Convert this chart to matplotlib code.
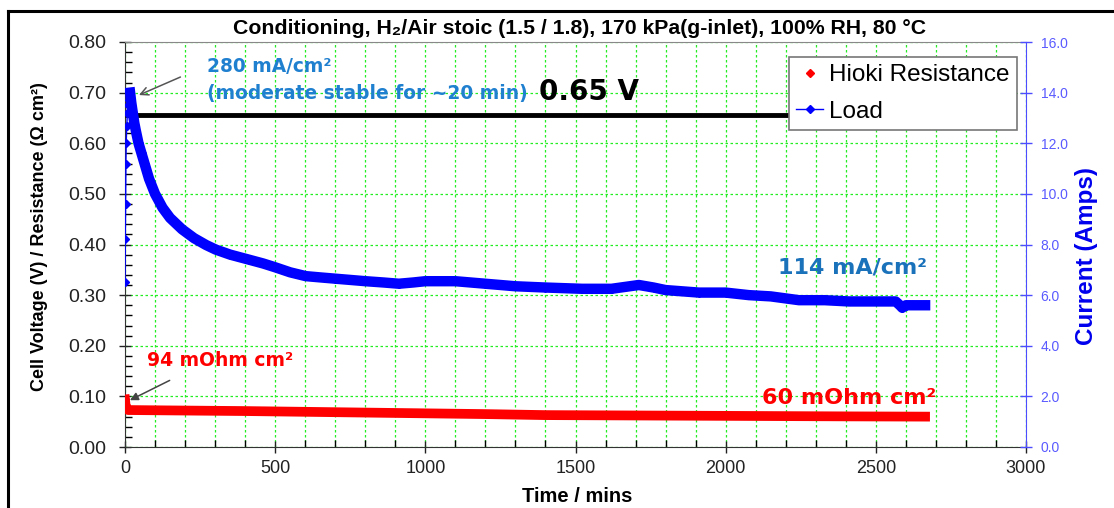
import matplotlib
matplotlib.use("Agg")
import matplotlib.pyplot as plt
from matplotlib.lines import Line2D
from matplotlib.ticker import MultipleLocator, FormatStrFormatter

plt.rcParams['font.family'] = ['Liberation Sans', 'DejaVu Sans']

# ---------------------------------------------------------------- data
# load current (A) vs time (min)
load_time = [0, 1, 2, 3, 4, 6, 8, 10, 13, 17, 21, 26, 31, 36, 45, 55, 65, 80, 100,
             125, 150, 190, 230, 270, 302, 350, 413, 460, 500, 550, 602, 650, 700,
             801, 860, 912, 960, 1000, 1050, 1100, 1200, 1300, 1400, 1522, 1620,
             1711, 1760, 1800, 1911, 2000, 2077, 2150, 2244, 2330, 2411, 2500,
             2566, 2580, 2588, 2600, 2630, 2664]
load_amps = [6.5, 8.2, 9.6, 11.2, 12.0, 12.7, 13.2, 13.5, 13.7, 14.0, 13.6, 13.2,
             12.8, 12.5, 12.0, 11.6, 11.2, 10.6, 10.0, 9.45, 9.05, 8.6, 8.25, 7.98,
             7.8, 7.6, 7.4, 7.25, 7.1, 6.9, 6.75, 6.7, 6.65, 6.55, 6.5, 6.45, 6.5,
             6.55, 6.55, 6.55, 6.45, 6.35, 6.3, 6.25, 6.25, 6.4, 6.3, 6.2, 6.1, 6.1,
             6.0, 5.95, 5.8, 5.8, 5.75, 5.75, 5.75, 5.6, 5.5, 5.6, 5.6, 5.6]

# Hioki HFR (ohm cm2)
res_time = [0, 2, 5, 10, 200, 400, 600, 800, 1000, 1200, 1400, 1600, 1800, 2000,
            2200, 2400, 2664]
res_ohm = [0.094, 0.082, 0.076, 0.073, 0.072, 0.071, 0.0695, 0.068, 0.0665, 0.065,
           0.063, 0.0625, 0.062, 0.0615, 0.061, 0.0605, 0.060]

# cell voltage held constant
volt_time = [0, 500, 1000, 1500, 2000, 2664]
volt = [0.656, 0.656, 0.656, 0.656, 0.656, 0.656]

W, H = 1114, 508
fig = plt.figure(figsize=(W / 100, H / 100), dpi=100)
fig.patch.set_facecolor('white')

x0, x1, ytop, ybot = 125, 1026, 42, 447
ax = fig.add_axes([x0 / W, 1 - ybot / H, (x1 - x0) / W, (ybot - ytop) / H])
ax2 = ax.twinx()

grid_green = '#22ee22'
right_blue = '#4d4dff'

# ---------------------------------------------------------------- left axis
ax.set_xlim(0, 3000)
ax.set_ylim(0, 0.8)
ax.xaxis.set_major_locator(MultipleLocator(500))
ax.xaxis.set_minor_locator(MultipleLocator(100))
ax.yaxis.set_major_locator(MultipleLocator(0.1))
ax.yaxis.set_minor_locator(MultipleLocator(0.02))
ax.yaxis.set_major_formatter(FormatStrFormatter('%.2f'))
ax.tick_params(axis='x', which='major', direction='inout', length=9, width=1,
               labelsize=13, pad=5, colors='#222222')
ax.tick_params(axis='x', which='minor', direction='in', length=5, width=1)
ax.tick_params(axis='y', which='major', direction='inout', length=9, width=1,
               labelsize=14, pad=9, colors='#222222')
ax.tick_params(axis='y', which='minor', direction='in', length=5, width=1)
ax.grid(which='major', axis='y', color=grid_green, linestyle=(0, (2, 2)), lw=0.9)
ax.grid(which='both', axis='x', color=grid_green, linestyle=(0, (2, 2)), lw=0.9)
ax.set_axisbelow(True)
ax.spines['left'].set_color('#333333')
ax.spines['bottom'].set_color('#333333')
ax.spines['top'].set_color('#888888')
ax.spines['right'].set_visible(False)

ax.plot(volt_time, volt, color='black', lw=3.5, solid_capstyle='butt', zorder=3)
ax.plot(res_time, res_ohm, color='red', lw=7, zorder=4)
ax.plot(res_time[:3], res_ohm[:3], 'D', color='red', ms=4, zorder=4)

# ---------------------------------------------------------------- right axis
ax2.set_ylim(0, 16)
ax2.yaxis.set_major_locator(MultipleLocator(2))
ax2.yaxis.set_major_formatter(FormatStrFormatter('%.1f'))
ax2.tick_params(axis='y', direction='inout', length=9, width=1, labelsize=10,
                pad=6, colors=right_blue, labelcolor='#5a5aff')
for s in ['top', 'left', 'bottom']:
    ax2.spines[s].set_visible(False)
ax2.spines['right'].set_color(right_blue)

ax2.plot(load_time, load_amps, color='blue', lw=1, marker='D', ms=4.5, zorder=5)
band = [i for i, t in enumerate(load_time) if t >= 17]
ax2.plot([load_time[i] for i in band], [load_amps[i] for i in band],
         color='blue', lw=7.5, solid_joinstyle='round', zorder=5)

# ---------------------------------------------------------------- annotations
ann_blue = '#2080d0'
ax.text(273, 0.751, '280 mA/cm²', color=ann_blue, fontsize=13.4, fontweight='bold',
        family='DejaVu Sans', va='center', ha='left', zorder=6)
ax.text(273, 0.698, '(moderate stable for ~20 min)', color=ann_blue, fontsize=13.4,
        fontweight='bold', family='DejaVu Sans', va='center', ha='left', zorder=6)
ax.annotate('', xy=(38, 0.693), xytext=(193, 0.733),
            arrowprops=dict(arrowstyle='->', color='#555555', lw=1.1,
                            mutation_scale=14), zorder=6)
ax.text(1380, 0.702, '0.65 V', color='black', fontsize=20, fontweight='bold',
        family='DejaVu Sans', va='center', ha='left', zorder=6)
ax.text(2173, 0.354, '114 mA/cm²', color='#1a72bb', fontsize=16,
        fontweight='bold', family='DejaVu Sans', va='center', ha='left', zorder=6)
ax.text(73, 0.171, '94 mOhm cm²', color='red', fontsize=13.5, fontweight='bold',
        family='DejaVu Sans', va='center', ha='left', zorder=6)
ax.annotate('', xy=(8, 0.090), xytext=(157, 0.134),
            arrowprops=dict(arrowstyle='-|>', color='#444444', lw=1.1,
                            mutation_scale=12), zorder=6)
ax.text(2120, 0.097, '60 mOhm cm²', color='red', fontsize=16, fontweight='bold',
        family='DejaVu Sans', va='center', ha='left', zorder=6)

# ---------------------------------------------------------------- legend
handles = [Line2D([], [], color='red', marker='D', ms=4, lw=0),
           Line2D([], [], color='blue', marker='D', ms=4, lw=1)]
leg = ax2.legend(handles, ['Hioki Resistance', 'Load'], loc='upper right',
                 bbox_to_anchor=(0.99, 0.963), borderaxespad=0, fontsize=17.5,
                 frameon=True, fancybox=False, framealpha=1, edgecolor='#777777',
                 handlelength=1.1, handletextpad=0.25, labelspacing=0.6,
                 borderpad=0.3)
leg.get_frame().set_linewidth(1.2)
leg.set_zorder(20)

# ---------------------------------------------------------------- labels
fig.text(580 / W, 1 - 28 / H,
         'Conditioning, H₂/Air stoic (1.5 / 1.8), 170 kPa(g-inlet), 100% RH, 80 °C',
         ha='center', va='center', fontsize=15.3, fontweight='bold')
fig.text(40 / W, 1 - 237 / H, 'Cell Voltage (V) / Resistance (Ω cm²)',
         rotation=90, ha='center', va='center', fontsize=13, fontweight='bold')
fig.text(1086 / W, 1 - 256 / H, 'Current (Amps)', rotation=90, ha='center',
         va='center', fontsize=17.5, fontweight='bold', color='#0000ee')
fig.text(577 / W, 1 - 496 / H, 'Time / mins', ha='center', va='center',
         fontsize=14.5, fontweight='bold')

# outer frame (left and top edges)
fig.add_artist(Line2D([8 / W, 8 / W], [0, 1 - 11 / H], transform=fig.transFigure,
                      color='black', lw=2.2))
fig.add_artist(Line2D([8 / W, 1], [1 - 11 / H, 1 - 11 / H], transform=fig.transFigure,
                      color='black', lw=2.2))

fig.savefig('out.png', dpi=100, facecolor='white')
